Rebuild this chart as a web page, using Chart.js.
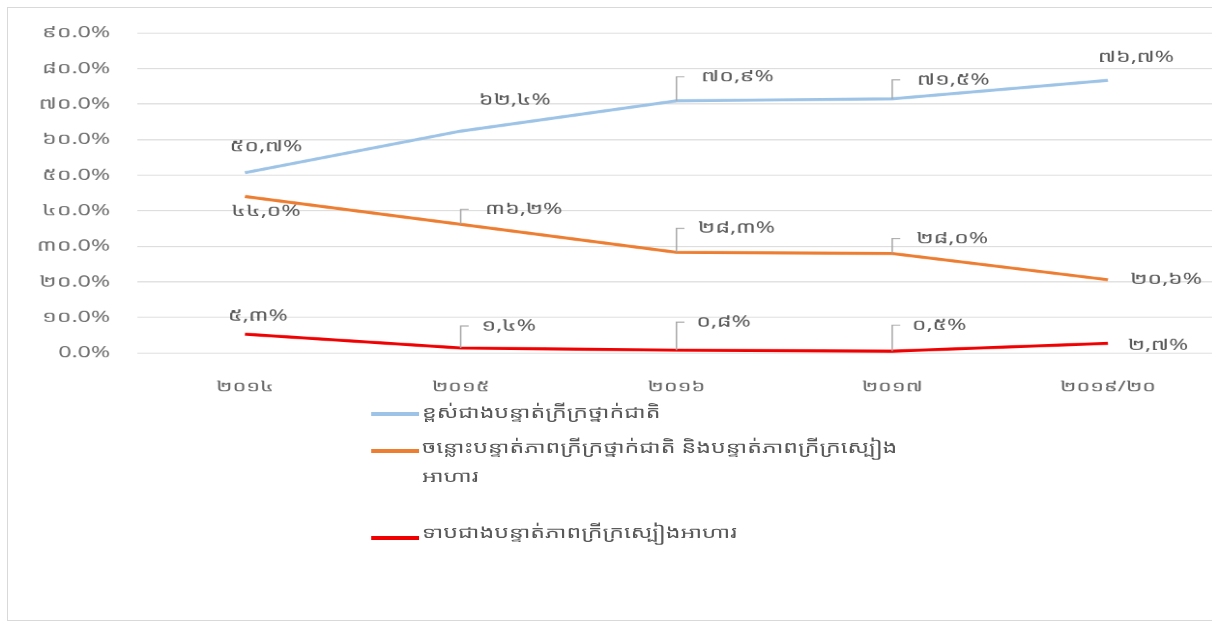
<!DOCTYPE html>
<html lang="km">
<head>
    <meta charset="UTF-8">
    <title>ភាពក្រីក្រ</title>
    <script src="https://cdn.jsdelivr.net/npm/chart.js"></script>
    <style>
        html, body {
            margin: 0;
            padding: 0;
            width: 1212px;
            height: 622px;
            overflow: hidden;
            background: #fff;
            font-family: "Noto Sans Khmer", "Khmer OS", "Noto Sans", "DejaVu Sans", sans-serif;
        }
        #frame {
            position: absolute;
            left: 7px;
            top: 7px;
            width: 1230px;
            height: 612px;
            border: 1px solid #d9d9d9;
        }
        /* the original picture is stretched sideways, so is this stage */
        #stage {
            position: absolute;
            left: 0;
            top: 0;
            width: 840px;
            height: 622px;
            transform: scaleX(1.45);
            transform-origin: 0 0;
        }
        #wrap {
            position: absolute;
            left: 0;
            top: 0;
            width: 840px;
            height: 622px;
        }
        .legend-item {
            position: absolute;
            left: 256px;
            color: #595959;
            font-size: 16px;
            line-height: 29px;
        }
        .legend-item .swatch {
            position: absolute;
            left: 0;
            width: 33px;
            height: 4px;
        }
        .legend-item .txt {
            margin-left: 35px;
            width: 350px;
        }
    </style>
</head>
<body>
    <div id="frame"></div>
    <div id="stage">
        <div id="wrap"><canvas id="povertyChart"></canvas></div>
        <div id="legend"></div>
    </div>

    <script>
        // Données
        const categories = ['២០១៤', '២០១៥', '២០១៦', '២០១៧', '២០១៩/២០'];
        const seriesNames = [
            'ខ្ពស់ជាងបន្ទាត់ក្រីក្រថ្នាក់ជាតិ',
            'ចន្លោះបន្ទាត់ភាពក្រីក្រថ្នាក់ជាតិ និងបន្ទាត់ភាពក្រីក្រស្បៀងអាហារ',
            'ទាបជាងបន្ទាត់ភាពក្រីក្រស្បៀងអាហារ'
        ];
        const aboveNational = [50.7, 62.4, 70.9, 71.5, 76.7];
        const betweenLines = [44.0, 36.2, 28.3, 28.0, 20.6];
        const belowFood = [5.3, 1.4, 0.8, 0.5, 2.7];
        const aboveLabels = ['៥០,៧%', '៦២,៤%', '៧០,៩%', '៧១,៥%', '៧៦,៧%'];
        const betweenLabels = ['៤៤,០%', '៣៦,២%', '២៨,៣%', '២៨,០%', '២០,៦%'];
        const belowLabels = ['៥,៣%', '១,៤%', '០,៨%', '០,៥%', '២,៧%'];
        const yTickLabels = ['0.0%', '១០.0%', '២០.0%', '៣០.0%', '៤០.0%', '៥០.0%', '៦០.0%', '៧០.0%', '៨០.0%', '៩០.0%'];

        // Styles
        const SX = 1.45;
        const colors = ['#9dc3e6', '#ed7d31', '#f00000'];
        const legendTops = [398, 433, 518];
        const legendSwatch = [14, 16, 18];
        // décalage des étiquettes en pixels d'écran (dx, dy, ligne de rappel)
        const labelOffsets = [
            [[21, -26, false], [54, -31, false], [61, -24, true], [61, -19, true], [28, -23, false]],
            [[21, 15, false], [63, -15, true], [60, -24, true], [60, -15, true], [58, 0, false]],
            [[13, -18, false], [48, -22, true], [47, -28, true], [47, -26, true], [50, 2, false]]
        ];
        const allLabels = [aboveLabels, betweenLabels, belowLabels];
        const fontFamily = '"Noto Sans Khmer", "Khmer OS", "Noto Sans", sans-serif';

        const labelPlugin = {
            id: 'pointLabels',
            afterDatasetsDraw(chart) {
                const ctx = chart.ctx;
                ctx.save();
                ctx.font = '16px ' + fontFamily;
                ctx.fillStyle = '#595959';
                ctx.textAlign = 'center';
                ctx.textBaseline = 'middle';
                chart.data.datasets.forEach((ds, d) => {
                    const meta = chart.getDatasetMeta(d);
                    meta.data.forEach((pt, i) => {
                        const [dx, dy, leader] = labelOffsets[d][i];
                        const tx = pt.x + dx / SX;
                        const ty = pt.y + dy;
                        if (leader) {
                            ctx.strokeStyle = '#a6a6a6';
                            ctx.lineWidth = 1;
                            ctx.beginPath();
                            ctx.moveTo(pt.x, pt.y);
                            ctx.lineTo(pt.x, ty);
                            ctx.lineTo(pt.x + 8 / SX, ty);
                            ctx.stroke();
                        }
                        ctx.fillText(allLabels[d][i], tx, ty);
                    });
                });
                ctx.restore();
            }
        };

        const canvas = document.getElementById('povertyChart');
        new Chart(canvas.getContext('2d'), {
            type: 'line',
            data: {
                labels: categories,
                datasets: [aboveNational, betweenLines, belowFood].map((values, i) => ({
                    label: seriesNames[i],
                    data: values,
                    borderColor: colors[i],
                    backgroundColor: colors[i],
                    borderWidth: 3,
                    pointRadius: 0,
                    tension: 0
                }))
            },
            options: {
                responsive: true,
                maintainAspectRatio: false,
                animation: false,
                devicePixelRatio: 1.5,
                layout: { padding: { top: 33, right: 0, bottom: 0, left: 0 } },
                plugins: {
                    legend: { display: false },
                    tooltip: { enabled: false }
                },
                scales: {
                    x: {
                        offset: true,
                        grid: { display: false },
                        border: { display: false },
                        ticks: {
                            color: '#666666',
                            font: { size: 15, family: fontFamily },
                            padding: 17,
                            maxRotation: 0
                        },
                        afterFit(scale) { scale.height = 269; }
                    },
                    y: {
                        min: 0,
                        max: 90,
                        grid: { color: '#d9d9d9', drawTicks: false },
                        border: { display: false },
                        ticks: {
                            stepSize: 10,
                            color: '#707070',
                            padding: 18.5,
                            font: { size: 16, family: fontFamily },
                            callback: (value, index) => yTickLabels[index]
                        },
                        afterFit(scale) { scale.width = 94.5; }
                    }
                }
            },
            plugins: [labelPlugin]
        });

        // Légende en bas, en liste verticale
        const legend = document.getElementById('legend');
        seriesNames.forEach((name, i) => {
            const item = document.createElement('div');
            item.className = 'legend-item';
            item.style.top = legendTops[i] + 'px';
            item.innerHTML = `<div class="swatch" style="background:${colors[i]};top:${legendSwatch[i]}px"></div><div class="txt">${name}</div>`;
            legend.appendChild(item);
        });
    </script>
</body>
</html>
